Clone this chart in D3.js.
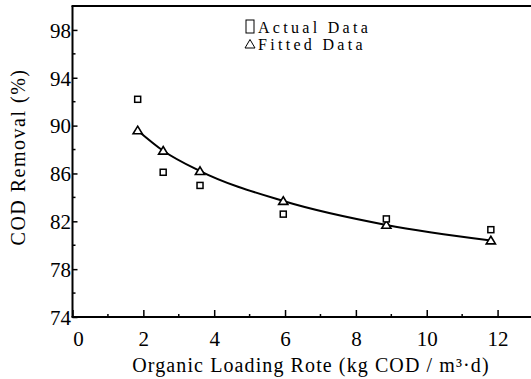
<!DOCTYPE html>
<html>
<head>
<meta charset="utf-8">
<script src="https://cdn.jsdelivr.net/npm/d3@7"></script>
<style>
  html, body { margin: 0; padding: 0; background: #fff; }
  svg { display: block; }
  svg text { font-family: "Liberation Serif", "Times New Roman", Times, Tinos, "Noto Serif", "DejaVu Serif", serif; fill: #000; }
</style>
</head>
<body>
<svg id="chart" width="531" height="379"></svg>
<script>
// ---- data ----
const loadingRate   = [1.84, 2.56, 3.6, 5.95, 8.86, 11.81];
const actualRemoval = [92.2, 86.1, 85.0, 82.6, 82.2, 81.3];
const fittedRemoval = [89.6, 87.9, 86.2, 83.7, 81.7, 80.4];
const xTickValues   = [0, 2, 4, 6, 8, 10, 12];
const xMinorTicks   = [1, 3, 5, 7, 9, 11];
const yTickValues   = [74, 78, 82, 86, 90, 94, 98];
const yMinorTicks   = [76, 80, 84, 88, 92, 96];
const legendLabels  = ["Actual Data", "Fitted Data"];
const xTitle = "Organic Loading Rote (kg COD / m\u00B3\u00B7d)";
const yTitle = "COD Removal (%)";

const FONT = "Liberation Serif, Times New Roman, Times, Tinos, Noto Serif, DejaVu Serif, serif";
const svg = d3.select("#chart");
const x = d3.scaleLinear().domain([0, 13]).range([72.5, 533]);
const y = d3.scaleLinear().domain([74, 100]).range([317, 6]);

// frame: left axis, bottom axis, top line
const frame = svg.append("g").attr("stroke", "#000").attr("stroke-width", 2).attr("fill", "none");
frame.append("line").attr("x1", x(0)).attr("x2", x(0)).attr("y1", y(74)).attr("y2", y(100));
frame.append("line").attr("x1", x(0) - 1).attr("x2", x(13)).attr("y1", y(74)).attr("y2", y(74));
frame.append("line").attr("x1", x(0) - 1).attr("x2", x(13)).attr("y1", y(100)).attr("y2", y(100));

// x axis (ticks inward)
const xAxis = d3.axisBottom(x).tickValues(xTickValues).tickSize(-7).tickPadding(14).tickFormat(d3.format("d"));
const gx = svg.append("g").attr("transform", `translate(0,${y(74)})`).call(xAxis).attr("font-family", FONT);
gx.select(".domain").remove();
gx.selectAll(".tick line").attr("stroke", "#000").attr("stroke-width", 1.5);
gx.selectAll(".tick text").attr("font-size", 21);
gx.selectAll(".tick").filter(d => d === 0).select("text").attr("dx", 5.5);
svg.append("g").selectAll("line").data(xMinorTicks).join("line")
  .attr("x1", d => x(d)).attr("x2", d => x(d))
  .attr("y1", y(74)).attr("y2", y(74) - 3)
  .attr("stroke", "#000").attr("stroke-width", 1.5);

// y axis (ticks inward)
const yAxis = d3.axisLeft(y).tickValues(yTickValues).tickSize(-5).tickPadding(1.5).tickFormat(d3.format("d"));
const gy = svg.append("g").attr("transform", `translate(${x(0)},0)`).call(yAxis).attr("font-family", FONT);
gy.select(".domain").remove();
gy.selectAll(".tick line").attr("stroke", "#000").attr("stroke-width", 1.5);
gy.selectAll(".tick text").attr("font-size", 21).attr("dy", "0.35em");
svg.append("g").selectAll("line").data(yMinorTicks).join("line")
  .attr("x1", x(0)).attr("x2", x(0) + 3)
  .attr("y1", d => y(d)).attr("y2", d => y(d))
  .attr("stroke", "#000").attr("stroke-width", 1.5);

// axis titles
svg.append("text")
  .attr("x", 311).attr("y", 372)
  .attr("text-anchor", "middle").attr("font-size", 20).attr("letter-spacing", 1.1)
  .text(xTitle);
svg.append("text")
  .attr("transform", "translate(25,157) rotate(-90)")
  .attr("text-anchor", "middle").attr("font-size", 20).attr("letter-spacing", 1.5)
  .text(yTitle);

// fitted curve
const pts = loadingRate.map((v, i) => [v, fittedRemoval[i]]);
svg.append("path")
  .datum(pts)
  .attr("fill", "none").attr("stroke", "#000").attr("stroke-width", 2)
  .attr("d", d3.line().x(d => x(d[0])).y(d => y(d[1])).curve(d3.curveMonotoneX));

// markers
const triPath = "M0,-4.2L4.6,3.4L-4.6,3.4Z";
svg.append("g").selectAll("path").data(pts).join("path")
  .attr("transform", d => `translate(${x(d[0])},${y(d[1])})`)
  .attr("d", triPath)
  .attr("fill", "#fff").attr("stroke", "#000").attr("stroke-width", 1.6);
svg.append("g").selectAll("rect").data(loadingRate.map((v, i) => [v, actualRemoval[i]])).join("rect")
  .attr("x", d => x(d[0]) - 3).attr("y", d => y(d[1]) - 3)
  .attr("width", 6).attr("height", 6)
  .attr("fill", "#fff").attr("stroke", "#000").attr("stroke-width", 1.5);

// legend
const lg = svg.append("g");
lg.append("rect").attr("x", 246).attr("y", 20).attr("width", 8).attr("height", 13)
  .attr("fill", "none").attr("stroke", "#000").attr("stroke-width", 1);
lg.append("path").attr("d", "M250,39.5L255,48L245,48Z")
  .attr("fill", "none").attr("stroke", "#000").attr("stroke-width", 1);
lg.selectAll("text").data(legendLabels).join("text")
  .attr("x", 258).attr("y", (d, i) => 33 + i * 17)
  .attr("font-size", 16).attr("letter-spacing", 3.3)
  .text(d => d);
</script>
</body>
</html>
